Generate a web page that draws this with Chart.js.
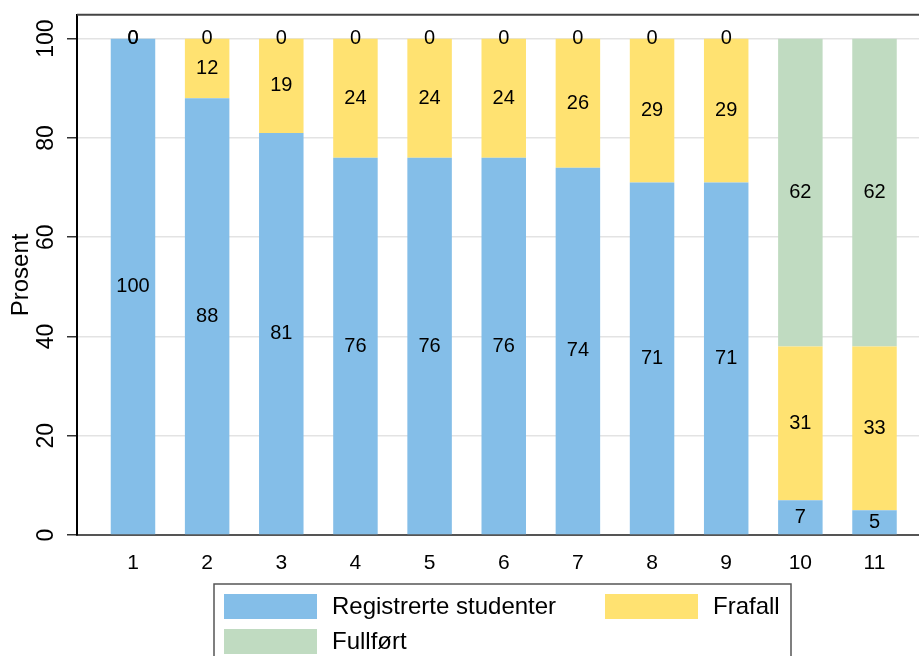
<!DOCTYPE html>
<html>
<head>
<meta charset="utf-8">
<script src="https://cdn.jsdelivr.net/npm/chart.js@4.4.0/dist/chart.umd.min.js"></script>
<style>
  html, body { margin: 0; padding: 0; background: #fff; }
</style>
</head>
<body>
<canvas id="chart" width="919" height="656"></canvas>
<script>
// semester number on the x axis
const semesters = [1, 2, 3, 4, 5, 6, 7, 8, 9, 10, 11];
// share of the cohort, in percent
const registrerte = [100, 88, 81, 76, 76, 76, 74, 71, 71, 7, 5];
const frafall = [0, 12, 19, 24, 24, 24, 26, 29, 29, 31, 33];
const fullfort = [0, 0, 0, 0, 0, 0, 0, 0, 0, 62, 62];
const yTicks = [0, 20, 40, 60, 80, 100];

const seriesNames = ['Registrerte studenter', 'Frafall', 'Fullført'];
const seriesColors = ['#84bee8', '#ffe271', '#c0dbc1'];

const FONT = '"Liberation Sans", Arial, sans-serif';

const toPoints = (vals) => semesters.map((s, i) => ({ x: s, y: vals[i] }));

// value printed in the middle of every stacked segment
const segmentLabels = {
  id: 'segmentLabels',
  afterDatasetsDraw(chart) {
    const ctx = chart.ctx;
    ctx.save();
    ctx.font = '20px ' + FONT;
    ctx.fillStyle = '#000';
    ctx.textAlign = 'center';
    ctx.textBaseline = 'middle';
    chart.data.datasets.forEach((ds, di) => {
      const meta = chart.getDatasetMeta(di);
      meta.data.forEach((bar, i) => {
        const p = bar.getProps(['x', 'y', 'base'], true);
        ctx.fillText(String(ds.data[i].y), p.x, (p.y + p.base) / 2);
      });
    });
    ctx.restore();
  }
};

// top frame line and the boxed legend below the axis
const frameAndLegend = {
  id: 'frameAndLegend',
  afterDraw(chart) {
    const { ctx, chartArea } = chart;
    ctx.save();
    ctx.strokeStyle = '#444';
    ctx.lineWidth = 2;
    ctx.beginPath();
    ctx.moveTo(chartArea.left, chartArea.top);
    ctx.lineTo(chartArea.right, chartArea.top);
    ctx.stroke();

    const boxLeft = 214, boxTop = 584, boxW = 577;
    ctx.strokeStyle = '#555';
    ctx.lineWidth = 1.5;
    ctx.strokeRect(boxLeft, boxTop, boxW, 120);

    const cols = [boxLeft + 10, boxLeft + 391];
    const rows = [boxTop + 10, boxTop + 45];
    ctx.font = '24px ' + FONT;
    ctx.textBaseline = 'middle';
    ctx.textAlign = 'left';
    chart.data.datasets.forEach((ds, i) => {
      const x = cols[i % 2], y = rows[Math.floor(i / 2)];
      ctx.fillStyle = ds.backgroundColor;
      ctx.fillRect(x, y, 93, 25);
      ctx.fillStyle = '#000';
      ctx.fillText(ds.label, x + 108, y + 13);
    });
    ctx.restore();
  }
};

new Chart(document.getElementById('chart'), {
  type: 'bar',
  data: {
    datasets: [
      { label: seriesNames[0], data: toPoints(registrerte), backgroundColor: seriesColors[0] },
      { label: seriesNames[1], data: toPoints(frafall), backgroundColor: seriesColors[1] },
      { label: seriesNames[2], data: toPoints(fullfort), backgroundColor: seriesColors[2] }
    ]
  },
  options: {
    responsive: false,
    animation: false,
    devicePixelRatio: 1,
    categoryPercentage: 1,
    barPercentage: 0.6,
    layout: { padding: { top: 13, right: 0, bottom: 0, left: 0 } },
    plugins: {
      legend: { display: false },
      tooltip: { enabled: false }
    },
    scales: {
      x: {
        type: 'linear',
        stacked: true,
        offset: false,
        min: 0.245,
        max: 11.6,
        afterBuildTicks: (s) => { s.ticks = semesters.map(v => ({ value: v })); },
        afterFit: (s) => { s.height = 121; },
        grid: { display: false, drawTicks: false, offset: false },
        border: { color: '#555', width: 2 },
        ticks: { color: '#000', padding: 16, font: { family: FONT, size: 21 } }
      },
      y: {
        stacked: true,
        min: 0,
        max: 104.8,
        afterBuildTicks: (s) => { s.ticks = yTicks.map(v => ({ value: v })); },
        afterFit: (s) => { s.width = 77; },
        grid: { color: '#e3e3e3', lineWidth: 1.5, tickColor: '#333', tickLength: 10, tickWidth: 1.5 },
        border: { color: '#000', width: 2 },
        ticks: {
          color: '#000', minRotation: 90, maxRotation: 90, crossAlign: 'center', padding: 1,
          font: { family: FONT, size: 23 }
        },
        title: {
          display: true, text: 'Prosent', color: '#000',
          font: { family: FONT, size: 24 }, padding: { top: 7, bottom: 0 }
        }
      }
    }
  },
  plugins: [segmentLabels, frameAndLegend]
});
</script>
</body>
</html>
